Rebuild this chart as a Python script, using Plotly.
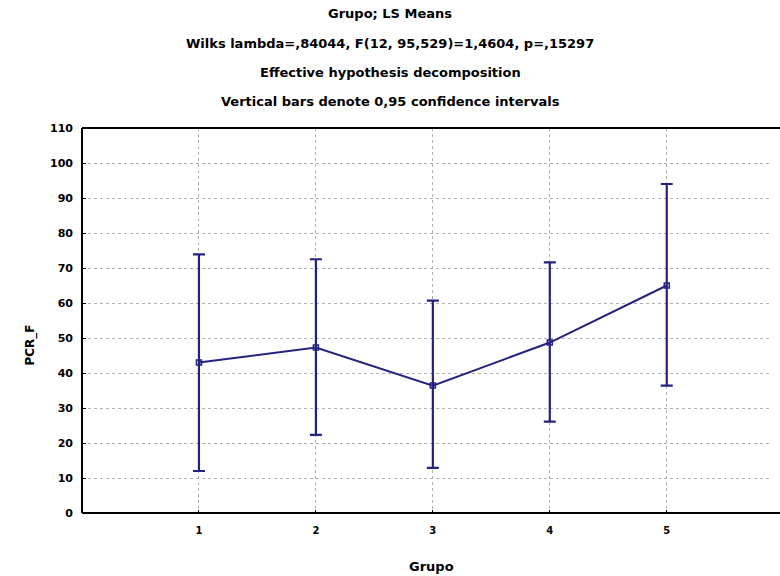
import plotly.graph_objects as go

groups = [1, 2, 3, 4, 5]
means = [43.0, 47.3, 36.4, 48.7, 65.0]
upper = [73.9, 72.5, 60.7, 71.6, 94.0]
lower = [12.0, 22.3, 12.9, 26.1, 36.4]
y_ticks = list(range(0, 111, 10))
title_lines = [
    "Grupo; LS Means",
    "Wilks lambda=,84044, F(12, 95,529)=1,4604, p=,15297",
    "Effective hypothesis decomposition",
    "Vertical bars denote 0,95 confidence intervals",
]

navy = "#23237f"
err_plus = [u - m for u, m in zip(upper, means)]
err_minus = [m - l for m, l in zip(means, lower)]

fig = go.Figure()
fig.add_trace(go.Scatter(
    x=groups, y=means, mode="lines+markers",
    line=dict(color=navy, width=2),
    marker=dict(symbol="square-open", size=5, color=navy, line=dict(width=1.5)),
    error_y=dict(type="data", symmetric=False, array=err_plus, arrayminus=err_minus,
                 color=navy, thickness=2.2, width=6),
    showlegend=False,
))

L, R, T, B = 82, 8, 128, 63
plot_w = 780 - L - R
font_fam = "DejaVu Sans, sans-serif"
fig.update_layout(
    width=780, height=576,
    margin=dict(l=L, r=R, t=T, b=B),
    paper_bgcolor="white", plot_bgcolor="white",
    font=dict(family=font_fam, size=10, color="black"),
    xaxis=dict(range=[0, 5.9], tickvals=groups, ticktext=[f"<b>{g}</b>" for g in groups],
               showline=False, showgrid=True, gridcolor="#b0b0b0", griddash="dot", gridwidth=1,
               ticks="inside", ticklen=3, tickcolor="black", zeroline=False,
               ticklabelstandoff=10, tickfont=dict(size=10)),
    yaxis=dict(range=[0, 110], tickvals=y_ticks, ticktext=[f"<b>{t}</b>" for t in y_ticks],
               showline=False, showgrid=True, gridcolor="#b0b0b0", griddash="dot", gridwidth=1,
               ticks="inside", ticklen=4, tickcolor="black", zeroline=False,
               ticklabelstandoff=8, tickfont=dict(size=11)),
)

ext = 1 + R / plot_w
for x0, y0, x1, y1 in [(0, 0, 0, 1), (0, 0, ext, 0), (0, 1, ext, 1)]:
    fig.add_shape(type="line", xref="paper", yref="paper", x0=x0, x1=x1, y0=y0, y1=y1,
                  line=dict(color="black", width=2))

title_cx = (390 - L) / plot_w
title_y = [13, 43, 72, 101]
for txt, ypx in zip(title_lines, title_y):
    fig.add_annotation(text=f"<b>{txt}</b>", xref="paper", yref="paper", x=title_cx, y=1,
                       yshift=T - ypx, xanchor="center", yanchor="middle",
                       showarrow=False, font=dict(size=13))

fig.add_annotation(text="<b>Grupo</b>", xref="paper", yref="paper", x=(431 - L) / plot_w, y=0,
                   yshift=-(566 - 513), xanchor="center", yanchor="middle",
                   showarrow=False, font=dict(size=13))
fig.add_annotation(text="<b>PCR_F</b>", xref="paper", yref="paper", x=0, y=0.5,
                   xshift=-(L - 30), yshift=-25, textangle=-90, xanchor="center", yanchor="middle",
                   showarrow=False, font=dict(size=12))

fig.write_html("out.html")
